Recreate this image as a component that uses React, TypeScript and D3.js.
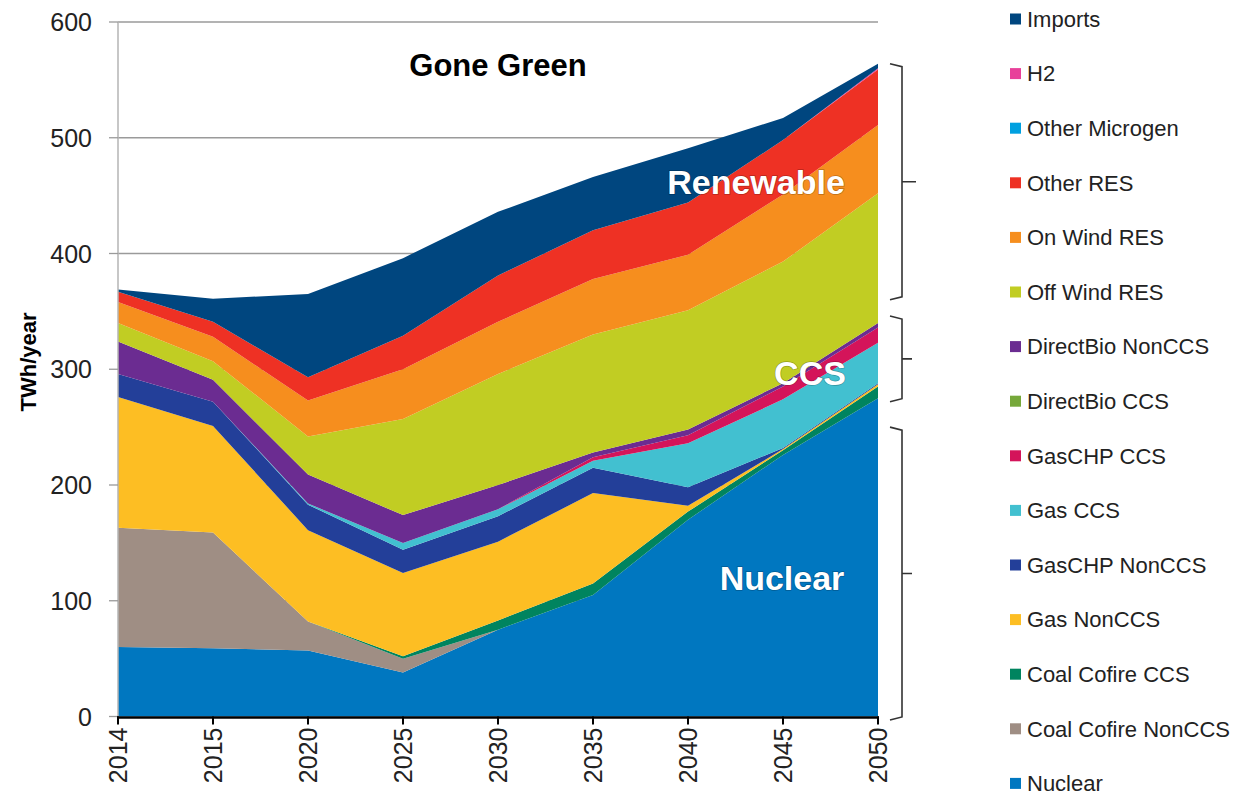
import { useEffect, useRef } from 'react'
import * as d3 from 'd3'

// ── data (TWh/year) ──
const YEARS = ['2014', '2015', '2020', '2025', '2030', '2035', '2040', '2045', '2050']

const SERIES = [
  'Nuclear', 'Coal Cofire NonCCS', 'Coal Cofire CCS', 'Gas NonCCS', 'GasCHP NonCCS',
  'Gas CCS', 'GasCHP CCS', 'DirectBio CCS', 'DirectBio NonCCS', 'Off Wind RES',
  'On Wind RES', 'Other RES', 'Other Microgen', 'H2', 'Imports',
]

const COLORS = [
  '#0077C0', '#9F8E84', '#00845F', '#FDBE23', '#233F99',
  '#42C0D0', '#D4145A', '#76A83A', '#6B2C91', '#C1CD23',
  '#F68E1E', '#EE3124', '#00A0E0', '#E8409A', '#00467F',
]

const nuclear        = [60, 59, 57, 38, 75, 105, 170, 226, 275]
const coalNonCCS     = [103, 100, 25, 12, 0, 0, 0, 0, 0]
const coalCCS        = [0, 0, 0, 2, 8, 10, 7, 4, 10]
const gasNonCCS      = [113, 92, 79, 72, 68, 78, 5, 1, 2]
const gasChpNonCCS   = [20, 21, 22, 20, 22, 22, 16, 1, 1]
const gasCCS         = [0, 0, 1, 6, 6, 6, 38, 42, 35]
const gasChpCCS      = [0, 0, 0, 0, 0, 3, 7, 11, 13]
const bioCCS         = [0, 0, 0, 0, 0, 0, 0, 0, 0]
const bioNonCCS      = [28, 19, 25, 24, 21, 4, 5, 3, 4]
const offWind        = [16, 16, 33, 83, 96, 102, 103, 105, 112]
const onWind         = [18, 21, 31, 43, 45, 48, 48, 58, 59]
const otherRES       = [9, 13, 20, 29, 40, 42, 45, 47, 48]
const otherMicrogen  = [0, 0, 0, 0, 0, 0, 0, 0, 0]
const h2             = [0, 0, 0, 0, 0, 0, 0, 0, 1]
const imports        = [2, 20, 72, 67, 55, 46, 47, 19, 4]

const VALUES = [
  nuclear, coalNonCCS, coalCCS, gasNonCCS, gasChpNonCCS, gasCCS, gasChpCCS, bioCCS,
  bioNonCCS, offWind, onWind, otherRES, otherMicrogen, h2, imports,
]

const Y_TICKS = [0, 100, 200, 300, 400, 500, 600]

// brackets on the right: [top value, bottom value] at 2050
const BRACKETS = [
  { top: 564, bottom: 360 },
  { top: 346, bottom: 272 },
  { top: 250, bottom: -3 },
]

const W = 1238
const H = 797
const M = { top: 22, left: 118, right: 360, bottom: 80 }
const FONT = '"Liberation Sans", Arial, sans-serif'

export default function App() {
  const svgRef = useRef<SVGSVGElement>(null)

  useEffect(() => {
    const svg = d3.select(svgRef.current)
    svg.selectAll('*').remove()

    const x = d3.scalePoint<string>().domain(YEARS).range([M.left, W - M.right])
    const y = d3.scaleLinear().domain([0, 600]).range([H - M.bottom - 0.5, M.top])

    const rows = YEARS.map((yr, i) => {
      const r: Record<string, number | string> = { year: yr }
      SERIES.forEach((s, k) => { r[s] = VALUES[k][i] })
      return r
    })
    const stacked = d3.stack<Record<string, number | string>>().keys(SERIES)(rows as any)

    // ── gridlines ──
    svg.append('g').selectAll('line').data(Y_TICKS.filter((t) => t > 0)).join('line')
      .attr('x1', M.left).attr('x2', x('2050')!)
      .attr('y1', (d) => y(d)).attr('y2', (d) => y(d))
      .attr('stroke', '#9a9a9a').attr('stroke-width', 1.3)

    // ── stacked areas ──
    const area = d3.area<any>()
      .x((d) => x(d.data.year)!)
      .y0((d) => y(d[0])).y1((d) => y(d[1]))

    svg.append('g').selectAll('path').data(stacked).join('path')
      .attr('d', area as any)
      .attr('fill', (_, i) => COLORS[i])

    // ── y axis ──
    svg.append('line')
      .attr('x1', M.left).attr('x2', M.left)
      .attr('y1', y(600)).attr('y2', y(0))
      .attr('stroke', '#b5b5b5').attr('stroke-width', 1.5)
    const yt = svg.append('g')
    yt.selectAll('line').data(Y_TICKS).join('line')
      .attr('x1', M.left - 9).attr('x2', M.left)
      .attr('y1', (d) => y(d)).attr('y2', (d) => y(d))
      .attr('stroke', '#9a9a9a').attr('stroke-width', 1.3)
    yt.selectAll('text').data(Y_TICKS).join('text')
      .attr('x', 92).attr('y', (d) => y(d)).attr('dy', '0.36em')
      .attr('text-anchor', 'end').attr('font-size', 25).attr('fill', '#222')
      .attr('font-family', FONT).text((d) => String(d))

    svg.append('text')
      .attr('transform', `translate(36,362) rotate(-90)`)
      .attr('text-anchor', 'middle').attr('font-size', 22).attr('font-weight', 700)
      .attr('font-family', FONT).attr('fill', '#000').text('TWh/year')

    // ── x axis ──
    svg.append('line')
      .attr('x1', M.left - 1).attr('x2', x('2050')! + 1)
      .attr('y1', y(0) + 1).attr('y2', y(0) + 1)
      .attr('stroke', '#000').attr('stroke-width', 2.5)
    const xt = svg.append('g')
    xt.selectAll('line').data(YEARS).join('line')
      .attr('x1', (d) => x(d)!).attr('x2', (d) => x(d)!)
      .attr('y1', y(0)).attr('y2', y(0) + 8)
      .attr('stroke', '#000').attr('stroke-width', 2)
    xt.selectAll('text').data(YEARS).join('text')
      .attr('transform', (d) => `translate(${x(d)},${y(0) + 11}) rotate(-90)`)
      .attr('dy', '0.36em').attr('text-anchor', 'end')
      .attr('font-size', 25).attr('fill', '#222').attr('font-family', FONT)
      .text((d) => d)

    // ── titles in the plot ──
    svg.append('text')
      .attr('x', 498).attr('y', 76)
      .attr('text-anchor', 'middle').attr('font-size', 31).attr('font-weight', 700)
      .attr('font-family', FONT).attr('fill', '#000').text('Gone Green')

    const inner = [
      { t: 'Renewable', cx: 756, v: 462 },
      { t: 'CCS', cx: 810, v: 297 },
      { t: 'Nuclear', cx: 782, v: 120 },
    ]
    svg.append('g').selectAll('text').data(inner).join('text')
      .attr('x', (d) => d.cx).attr('y', (d) => y(d.v)).attr('dy', '0.36em')
      .attr('text-anchor', 'middle').attr('font-size', 34).attr('font-weight', 700)
      .attr('font-family', FONT).attr('fill', '#fff')
      .style('paint-order', 'stroke').attr('stroke', 'rgba(0,0,0,0.25)').attr('stroke-width', 1.5)
      .text((d) => d.t)

    // ── brackets ──
    const bx = x('2050')! + 24
    BRACKETS.forEach((b, i) => {
      const yt0 = y(b.top), yb0 = y(b.bottom), ym = (yt0 + yb0) / 2
      const tick = i === 0 ? 14 : 10
      svg.append('path')
        .attr('d', `M${bx - 12},${yt0} L${bx},${yt0 + 3} L${bx},${yb0 - 3} L${bx - 12},${yb0}`
          + ` M${bx},${ym} L${bx + tick},${ym}`)
        .attr('fill', 'none').attr('stroke', '#333').attr('stroke-width', 1.6)
    })

    // ── legend (top = last series) ──
    const legendOrder = SERIES.map((s, i) => ({ s, c: COLORS[i] })).reverse()
    const lg = svg.append('g').attr('transform', 'translate(1010,19)')
    legendOrder.forEach((d, i) => {
      lg.append('rect')
        .attr('x', 0).attr('y', i * 54.6 - 5.5).attr('width', 11).attr('height', 11)
        .attr('fill', d.c)
      lg.append('text')
        .attr('x', 17).attr('y', i * 54.6).attr('dy', '0.35em')
        .attr('font-size', 22).attr('fill', '#222').attr('font-family', FONT)
        .text(d.s)
    })
  }, [])

  return (
    <>
      <style>{'body{margin:0}'}</style>
      <svg ref={svgRef} width={W} height={H} style={{ display: 'block', background: '#fff' }} />
    </>
  )
}
